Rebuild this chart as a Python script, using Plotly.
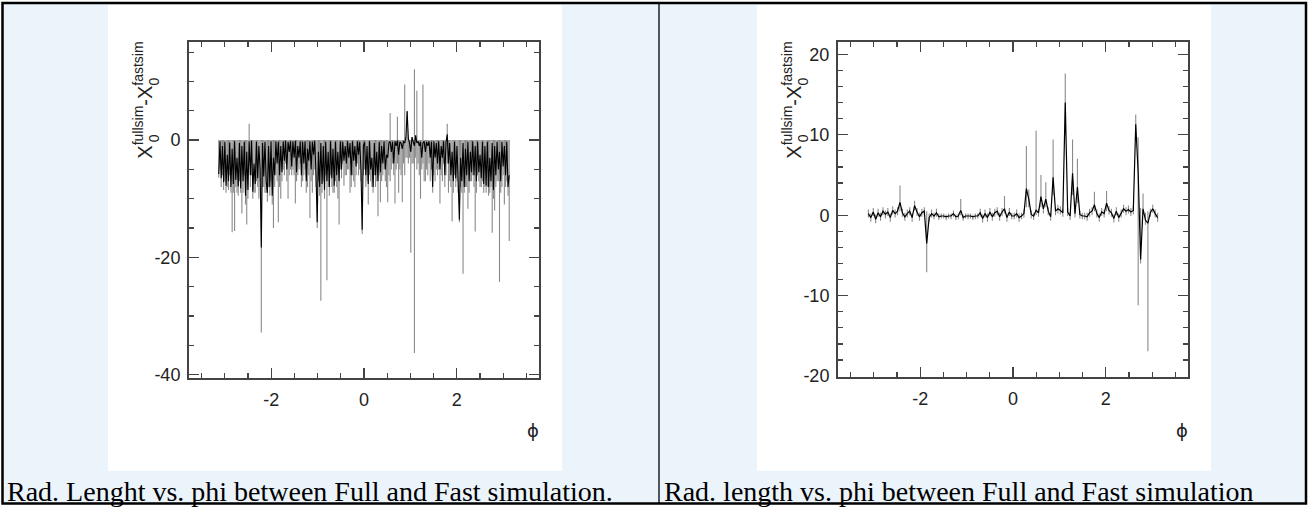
import numpy as np
import plotly.graph_objects as go

W, H = 1311, 517

# ---------------- data ----------------
PHI_MIN, PHI_MAX = -np.pi, np.pi

# Left panel (240 bins): black = histogram content, gray = bar ends
left_black = [
    -5.8, -0.2, -6.5, -1.0, -7.2, -0.3, -7.8, -2.5, -7.0, -0.4, -8.0, -1.5, -7.5, -0.2, -6.8, -3.0, -7.9, -0.5, -8.2, -1.0,
    -7.0, -0.3, -9.5, -2.0, -8.5, -0.2, -6.0, -0.1, -8.8, -4.0, -7.5, -0.3, -6.5, -1.0, -5.0, -18.3, -0.5, -6.2, -0.3, -7.0,
    -9.0, -1.0, -8.0, -0.2, -9.5, -3.0, -6.0, -0.2, -4.0, -0.3, -6.0, -1.0, -5.5, -0.2, -3.5, -0.1, -5.0, -0.3, -2.0, -0.2,
    -4.5, -0.2, -3.0, -0.1, -5.5, -1.0, -3.0, -0.2, -6.0, -0.3, -4.0, -0.2, -7.0, -1.5, -3.5, -0.2, -5.0, -0.3, -2.5, -0.1,
    -6.0, -14.0, -2.0, -8.0, -0.5, -7.5, -1.0, -8.5, -0.3, -7.0, -2.0, -8.0, -0.2, -6.5, -1.5, -7.8, -0.3, -6.0, -2.0, -7.0,
    -0.2, -5.0, -0.3, -3.5, -1.0, -4.0, -0.2, -3.0, -0.5, -6.0, -0.2, -3.5, -1.0, -4.5, -0.2, -2.5, -0.3, -5.0, -15.3, -1.0,
    -0.3, -6.0, -1.0, -7.5, -0.2, -5.0, -3.0, -8.0, -0.5, -6.0, -2.0, -7.0, -0.3, -5.5, -1.0, -4.0, -0.2, -5.0, -2.5, -3.0,
    -0.5, -0.2, -2.0, -0.3, -4.0, -0.2, -1.0, -0.1, -2.5, -0.3, -0.5, -1.5, -0.2, -0.5, 0.5, 4.9, 0.3, -0.5, -2.0, 0.5,
    -0.3, -1.0, 0.8, -0.5, -0.2, -1.0, -0.3, -3.0, -0.5, -0.2, -2.0, -0.3, -1.0, -0.2, -3.0, -0.3, -8.0, -0.2, -3.0, -0.5,
    -4.0, -0.2, -5.0, -1.0, -3.0, -0.2, -6.0, -0.3, 1.0, -4.0, -0.5, -6.0, -2.0, -7.0, -0.3, -6.5, -1.0, -8.0, -13.6, -3.0,
    -7.0, -0.5, -8.0, -1.5, -6.0, -0.3, -7.0, -2.0, -5.5, -0.2, -6.0, -1.0, -7.0, -0.3, -5.5, -2.5, -6.5, -0.3, -7.5, -1.0,
    -7.8, -0.3, -8.0, -3.0, -7.0, -0.5, -8.5, -1.0, -6.0, -0.3, -5.0, -2.0, -7.0, -0.3, -4.5, -1.0, -6.0, -0.3, -8.0, -6.0,
]
left_gray_low = [
    -6.4, -5.0, -8.0, -6.0, -8.5, -7.0, -9.0, -8.0, -8.5, -6.0, -9.0, -15.7, -9.0, -15.5, -8.0, -9.0, -9.5, -7.0, -9.0, -12.5,
    -9.0, -6.0, -11.0, -14.4, -10.0, -3.0, -8.0, -6.0, -10.0, -9.0, -9.0, -7.0, -8.0, -10.0, -7.0, -32.8, -8.0, -8.0, -9.0, -9.0,
    -10.5, -8.0, -9.5, -7.0, -11.0, -15.0, -8.0, -6.0, -7.0, -14.0, -8.0, -10.0, -7.0, -5.0, -6.0, -4.0, -7.0, -10.0, -6.0, -5.0,
    -6.0, -5.0, -6.0, -10.8, -7.0, -6.0, -5.0, -4.0, -8.0, -7.0, -6.0, -5.0, -9.0, -8.0, -6.0, -13.3, -7.0, -9.0, -6.0, -5.0,
    -8.0, -15.0, -7.0, -9.5, -27.4, -9.0, -7.0, -10.0, -6.0, -23.9, -8.0, -9.5, -6.0, -8.0, -9.0, -9.0, -7.0, -8.0, -10.0, -14.4,
    -5.0, -6.5, -4.0, -7.8, -6.0, -6.0, -5.0, -5.0, -9.0, -8.0, -6.0, -7.0, -8.0, -6.0, -4.0, -6.0, -5.0, -7.0, -16.0, -6.0,
    -5.0, -8.0, -7.0, -11.0, -6.0, -7.0, -8.0, -9.0, -6.0, -8.0, -7.0, -13.0, -6.0, -10.6, -7.0, -6.0, -5.0, -7.0, -8.0, -10.6,
    -6.0, -7.0, -5.0, -4.0, -6.0, -10.8, -5.0, -4.0, -9.0, -5.0, -6.0, -10.6, -4.0, -6.0, -3.0, -3.0, -4.0, -3.0, -19.2, -4.0,
    -4.0, -36.3, -3.0, -5.0, -4.0, -6.0, -10.0, -5.0, -4.0, -7.0, -7.0, -5.0, -6.0, -4.0, -7.0, -5.0, -9.0, -6.0, -7.0, -5.0,
    -6.0, -5.0, -10.8, -6.0, -7.0, -4.0, -8.0, -6.0, -4.0, -9.0, -7.0, -8.0, -13.9, -9.0, -6.0, -8.0, -7.0, -9.0, -14.0, -8.0,
    -9.0, -22.8, -9.0, -8.0, -8.0, -11.7, -9.0, -7.0, -7.0, -6.0, -8.0, -15.6, -9.0, -6.0, -7.0, -8.0, -8.0, -7.0, -9.0, -8.0,
    -9.0, -8.0, -9.5, -9.0, -8.0, -15.8, -10.0, -12.0, -8.0, -7.0, -7.0, -24.2, -9.0, -8.0, -6.0, -11.0, -8.0, -7.0, -9.5, -17.2,
]
left_gray_high = [
    0, 0, 0, 0, 0, 0, 0, 0, 0, 0, 0, 0, 0, 0, 0, 0, 0, 0, 0, 0,
    0, 0, 0, 0, 0, 2.8, 0, 0, 0, 0, 0, 0, 0, 0, 0, 0, 0, 0, 0, 0,
    0, 0, 0, 0, 0, 0, 0, 0, 0, 0, 0, 0, 0, 0, 0, 0, 0, 0, 0, 0,
    0, 0, 0, 0, 0, 0, 0, 0, 0, 0, 0, 0, 0, 0, 0, 0, 0, 0, 0, 0,
    0, 0, 0, 0, 0, 0, 0, 0, 0, 0, 0, 0, 0, 0, 0, 0, 0, 0, 0, 0,
    0, 0, 0, 0, 0, 0, 0, 0, 0, 0, 0, 0, 0, 0, 0, 0, 0, 0, 0, 0,
    0, 0, 0, 0, 0, 0, 0, 0, 0, 0, 0, 0, 0, 0, 0, 0, 0, 0, 0, 0,
    0, 4.6, 0, 0, 0, 0, 0, 4.0, 0, 0, 0, 0, 0, 9.5, 0, 5.0, 0, 0, 0, 0,
    0, 12.1, 0, 8.4, 0, 0, 0, 0, 9.5, 0, 0, 0, 0, 0, 0, 0, 0, 0, 0, 0,
    0, 0, 0, 0, 0, 0, 0, 0, 2.8, 0, 0, 0, 0, 0, 0, 0, 0, 0, 0, 0,
    0, 0, 0, 0, 0, 0, 0, 0, 0, 0, 0, 0, 0, 0, 0, 0, 0, 0, 0, 0,
    0, 0, 0, 0, 0, 0, 0, 0, 0, 0, 0, 0, 0, 0, 0, 0, 0, 0, 0, 0,
]

# Right panel (120 bins)
right_black = [
    0.2, -0.3, 0.4, -0.5, 0.3, -0.2, 0.5, 0.1, 0.4, -0.3,
    0.6, 0.2, 0.5, 1.6, 0.3, -0.2, 0.2, 0.5, -0.3, 1.2,
    0.4, -0.2, 0.3, 0.5, -3.5, -0.3, 0.2, -0.1, 0.3, -0.2,
    -0.1, -0.1, -0.2, -0.1, -0.1, 0.2, -0.2, -0.1, 0.6, -0.3,
    -0.1, -0.1, -0.1, -0.2, -0.1, -0.1, 0.3, -0.4, 0.2, -0.3,
    0.4, -0.2, 0.3, 0.5, -0.2, 0.4, 0.8, -0.3, 0.4, -0.1,
    -0.1, 0.2, -0.3, -0.1, 0.2, 3.3, 2.0, 0.1, -0.1, 0.6,
    0.3, 2.3, 0.8, 2.0, 0.5, -0.2, 4.7, 0.5, 0.8, 0.6,
    0.3, 14.0, 0.4, -0.1, 5.2, 0.2, 3.5, 0.1, -0.1, -0.1,
    -0.2, 0.3, 0.5, 1.3, 0.2, -0.3, 0.4, 0.2, 1.5, 0.6,
    0.3, -0.4, 0.5, -0.3, 0.2, 0.8, 0.5, 0.7, 0.4, 0.6,
    11.3, 5.3, -5.5, 0.8, -0.6, -1.0, 0.3, 0.8, 0.2, -0.3,
]
right_gray_low = [
    -0.3, -0.8, -0.1, -1.0, -0.2, -0.7, 0.0, -0.4, -0.1, -0.8,
    0.1, -0.3, 0.0, 0.5, -0.2, -0.7, -0.3, 0.0, -0.8, 0.6,
    -0.1, -0.7, -0.2, 0.0, -7.1, -0.8, -0.3, -0.5, -0.2, -0.6,
    -0.4, -0.4, -0.6, -0.4, -0.5, -0.2, -0.6, -0.5, 0.0, -0.7,
    -0.4, -0.5, -0.4, -0.6, -0.5, -0.4, -0.2, -0.9, -0.3, -0.8,
    -0.1, -0.7, -0.2, 0.0, -0.7, -0.1, 0.2, -0.8, -0.1, -0.5,
    -0.5, -0.3, -0.8, -0.5, -0.3, 1.0, 1.0, -0.4, -0.6, 0.0,
    -0.2, 1.0, 0.2, 1.0, 0.0, -0.7, 2.5, 0.0, 0.2, 0.1,
    -0.2, 10.0, -0.1, -0.6, 2.5, -0.3, 1.5, -0.4, -0.5, -0.5,
    -0.7, -0.2, 0.0, 0.5, -0.3, -0.8, -0.1, -0.3, 0.5, 0.1,
    -0.2, -0.9, 0.0, -0.8, -0.3, 0.3, 0.0, 0.2, -0.1, 0.1,
    10.0, -11.2, -6.0, 0.2, -1.2, -16.9, -0.2, 0.3, -0.3, -0.8,
]
right_gray_high = [
    0.7, 0.2, 0.9, 0.1, 0.8, 0.3, 1.0, 0.6, 0.9, 0.2,
    1.1, 0.7, 1.0, 3.7, 0.8, 0.3, 0.7, 1.0, 0.2, 1.8,
    0.9, 0.3, 0.8, 1.0, 0.5, 0.2, 0.7, 0.3, 0.8, 0.2,
    0.2, 0.2, 0.1, 0.2, 0.2, 0.6, 0.1, 0.2, 2.0, 0.1,
    0.2, 0.2, 0.2, 0.1, 0.2, 0.2, 0.8, 0.1, 0.7, 0.2,
    0.9, 0.3, 0.8, 1.0, 0.3, 0.9, 2.4, 0.2, 0.9, 0.3,
    0.3, 0.7, 0.2, 0.3, 0.7, 8.6, 3.2, 0.6, 0.3, 10.5,
    0.8, 5.0, 1.3, 4.1, 1.0, 0.3, 9.4, 1.0, 1.3, 1.1,
    0.8, 17.6, 0.9, 0.4, 9.4, 0.7, 7.0, 0.6, 0.3, 0.3,
    0.3, 0.8, 1.0, 2.9, 0.7, 0.2, 0.9, 0.7, 3.0, 1.1,
    0.8, 0.1, 1.0, 0.2, 0.7, 1.3, 1.0, 1.2, 0.9, 1.1,
    12.5, 9.7, 0.9, 2.7, 0.3, 0.5, 0.8, 1.3, 0.7, 0.3,
]

left_caption = "Rad. Lenght vs. phi between Full and Fast simulation."
right_caption = "Rad. length vs. phi between Full and Fast simulation"
y_title_main = "X<sup>fullsim</sup>-X<sup>fastsim</sup>"
x_title = "ϕ"

left_yticks = [-40, -20, 0]
right_yticks = [-20, -10, 0, 10, 20]
x_ticks = [-2, 0, 2]

# ---------------- helpers ----------------
def px(x):
    return x / W

def py(y):
    return 1 - y / H

def bin_centers(n):
    e = np.linspace(PHI_MIN, PHI_MAX, n + 1)
    return 0.5 * (e[:-1] + e[1:])

fig = go.Figure()

GRAY = "#8a8a8a"
BLACK = "#000000"


def add_panel(black, glow, ghigh, xa, ya, lw):
    black = np.array(black, dtype=float)
    glow = np.array(glow, dtype=float)
    ghigh = np.array(ghigh, dtype=float)
    c = bin_centers(len(black))
    up = np.clip(ghigh - black, 0, None)
    dn = np.clip(black - glow, 0, None)
    fig.add_trace(go.Scatter(
        x=c, y=black, mode="markers",
        marker=dict(size=1, color="rgba(0,0,0,0)"),
        error_y=dict(type="data", symmetric=False, array=up, arrayminus=dn,
                     color=GRAY, thickness=1.1, width=0),
        xaxis=xa, yaxis=ya, showlegend=False, hoverinfo="skip"))
    fig.add_trace(go.Scatter(
        x=c, y=black, mode="lines", line=dict(color=BLACK, width=lw, shape="linear"),
        xaxis=xa, yaxis=ya, showlegend=False, hoverinfo="skip"))


add_panel(left_black, left_gray_low, left_gray_high, "x", "y", 1.1)
add_panel(right_black, right_gray_low, right_gray_high, "x2", "y2", 1.2)

AX_COL = "#444444"
tickfont = dict(family="Liberation Sans, Arial, sans-serif", size=18, color="#222222")

def xaxis_cfg(domain):
    return dict(domain=domain, range=[-3.77, 3.77], showgrid=False, zeroline=False,
                showline=True, linecolor=AX_COL, linewidth=2, mirror="allticks",
                ticks="inside", ticklen=10, tickwidth=1.2, tickcolor=AX_COL,
                tickvals=x_ticks, ticktext=[str(v) for v in x_ticks],
                tickfont=tickfont, ticklabelstandoff=5,
                minor=dict(ticks="inside", ticklen=5, tickwidth=1.2, tickcolor=AX_COL,
                           dtick=0.5, tick0=0, showgrid=False),
                fixedrange=True)

def yaxis_cfg(domain, rng, vals, mdt, anchor):
    return dict(domain=domain, range=rng, showgrid=False, zeroline=False,
                showline=True, linecolor=AX_COL, linewidth=2, mirror="allticks",
                ticks="inside", ticklen=10, tickwidth=1.2, tickcolor=AX_COL,
                tickvals=vals, ticktext=[str(v) for v in vals],
                tickfont=tickfont, ticklabelstandoff=3, anchor=anchor,
                minor=dict(ticks="inside", ticklen=5, tickwidth=1.2, tickcolor=AX_COL,
                           dtick=mdt, tick0=0, showgrid=False),
                fixedrange=True)

fig.update_layout(
    width=W, height=H, margin=dict(l=0, r=0, t=0, b=0),
    paper_bgcolor="white", plot_bgcolor="rgba(0,0,0,0)",
    xaxis=xaxis_cfg([px(189), px(539)]),
    yaxis=yaxis_cfg([py(385), py(43)], [-40.5, 16.7], left_yticks, 5, "x"),
    xaxis2=dict(xaxis_cfg([px(838), px(1188)]), anchor="y2"),
    yaxis2=yaxis_cfg([py(384), py(43)], [-20.05, 21.5], right_yticks, 2, "x2"),
)
fig.layout.xaxis.anchor = "y"

# ---------------- table / page decoration ----------------
BLUE = "#ebf3fb"
shapes = []
shapes.append(dict(type="rect", xref="paper", yref="paper", x0=px(3), x1=px(1306),
                   y0=py(514), y1=py(3), fillcolor=BLUE, line_width=0, layer="below"))
for x0, x1 in [(108, 562), (757, 1211)]:
    shapes.append(dict(type="rect", xref="paper", yref="paper", x0=px(x0), x1=px(x1),
                       y0=py(480), y1=py(5), fillcolor="white", line_width=0, layer="below"))
shapes.append(dict(type="rect", xref="paper", yref="paper", x0=px(2.5), x1=px(1306),
                   y0=py(513.5), y1=py(3), line=dict(color="black", width=2.5),
                   fillcolor="rgba(0,0,0,0)", layer="above"))
shapes.append(dict(type="line", xref="paper", yref="paper", x0=px(659), x1=px(659),
                   y0=py(513.5), y1=py(3), line=dict(color="black", width=1.3), layer="above"))
fig.update_layout(shapes=shapes)

# ---------------- texts ----------------
ann = []
cap_font = dict(family="Liberation Serif, Times New Roman, serif", size=28, color="black")
ann.append(dict(text=left_caption, x=px(5), y=py(501), xref="paper", yref="paper",
                xanchor="left", yanchor="middle", showarrow=False, font=cap_font))
ann.append(dict(text=right_caption, x=px(662), y=py(501), xref="paper", yref="paper",
                xanchor="left", yanchor="middle", showarrow=False, font=cap_font))

title_font = dict(family="Liberation Sans, Arial, sans-serif", size=20, color="#222222")
sub_font = dict(family="Liberation Sans, Arial, sans-serif", size=14, color="#222222")
for xc, xphi in [(143, 533), (792, 1182)]:
    ann.append(dict(text=y_title_main, x=px(xc), y=py(41), xref="paper", yref="paper",
                    xanchor="center", yanchor="top", textangle=-90, showarrow=False,
                    font=title_font))
    for ys in [83, 141]:
        ann.append(dict(text="0", x=px(xc + 11), y=py(ys), xref="paper", yref="paper",
                        xanchor="center", yanchor="middle", textangle=-90, showarrow=False,
                        font=sub_font))
    ann.append(dict(text=x_title, x=px(xphi), y=py(439), xref="paper", yref="paper",
                    xanchor="center", yanchor="middle", showarrow=False,
                    font=dict(family="DejaVu Sans, sans-serif", size=18, color="#222222")))
fig.update_layout(annotations=ann)

fig.write_html(
    "out.html",
    config={"displayModeBar": False, "staticPlot": True},
    post_script="document.body.style.margin='0';document.body.style.overflow='hidden';",
)
